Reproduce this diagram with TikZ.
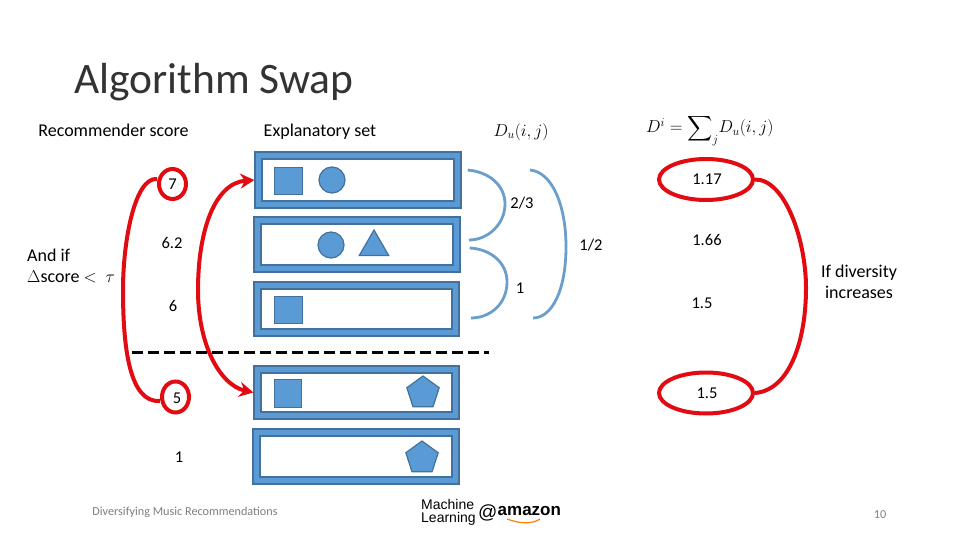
\documentclass[tikz,border=0pt]{standalone}
\usepackage{fontspec}
\setmainfont{Carlito}
\newfontfamily\logofont{Liberation Sans}
\usetikzlibrary{arrows.meta,shapes.geometric}
\definecolor{bfill}{HTML}{5B9BD5}
\definecolor{bedge}{HTML}{41719C}
\definecolor{redl}{HTML}{E30B12}
\definecolor{arcb}{HTML}{6A9FCC}
\definecolor{greyt}{HTML}{7F7F7F}
\tikzset{
 x=1pt,y=-1pt,
 lab/.style={font=\fontsize{18}{20}\selectfont,text=black,inner sep=0pt,align=center},
 num/.style={font=\fontsize{16.5}{20}\selectfont,text=black,inner sep=0pt,align=center},
 foot/.style={font=\fontsize{12.2}{14}\selectfont,text=greyt,inner sep=0pt},
 outerf/.style={draw=bedge,line width=1.3pt,fill=bfill,inner sep=0pt},
 innerf/.style={draw=bedge,line width=1.5pt,fill=white,inner sep=0pt},
 shp/.style={draw=bedge,line width=1.2pt,fill=bfill,inner sep=0pt},
 redo/.style={draw=redl,line width=4pt,ellipse,inner sep=0pt,fill=none},
 redc/.style={draw=redl,line width=4pt},
 arcl/.style={draw=arcb,line width=2.8pt},
}
\begin{document}
\begin{tikzpicture}
\useasboundingbox[fill=white] (0,0) rectangle (960,540);
% title
\node[anchor=base west,inner sep=0pt,text=black!80,font=\fontsize{43.5}{46}\selectfont] (title) at (74,94) {Algorithm Swap};
\node[lab] (rs) at (113.5,130) {Recommender score};
\node[lab] (es) at (320,131.5) {Explanatory set};
\node[lab,font=\fontsize{17.5}{20}\selectfont] (du) at (521,132) {$D_u(i,j)$};
\node[lab,anchor=base west,font=\fontsize{18}{22}\selectfont] (di) at (646,133) {$D^{i}=\mathop{\vcenter{\hbox{\scalebox{1.75}{$\displaystyle\sum$}}}}\nolimits_{j}\!D_u(i,j)$};
% frames
\foreach \n/\xa/\ya/\xb/\yb in {r1/255/152/461/208,r2/254/217/460/272,r3/254/282/459/336,r4/254/366/459/419,r5/253/429/459/484}{
 \node[outerf,minimum width=\xb-\xa,minimum height=\yb-\ya] (\n) at ({(\xa+\xb)/2},{(\ya+\yb)/2}) {};
 \node[innerf,minimum width=\xb-\xa-14,minimum height=\yb-\ya-14] (\n i) at (\n) {};
}
% shapes
\node[shp,minimum size=27.5pt] (s1) at (288.5,181) {};
\node[shp,circle,minimum size=26pt] (c1) at (332,180) {};
\node[shp,circle,minimum size=26pt] (c2) at (331,245) {};
\node[shp,regular polygon,regular polygon sides=3,minimum size=34pt] (t2) at (374,247) {};
\node[shp,minimum size=27.5pt] (s3) at (288.5,310) {};
\node[shp,minimum size=27.5pt] (s4) at (288,393.5) {};
\node[shp,regular polygon,regular polygon sides=5,minimum size=34pt] (p4) at (423,393) {};
\node[shp,regular polygon,regular polygon sides=5,minimum size=34pt] (p5) at (422,458) {};
% scores
\node[num] (n7) at (172.5,184) {7};
\node[num] (n62) at (172,243) {6.2};
\node[num] (n6) at (173,306) {6};
\node[num] (n5) at (177,398) {5};
\node[num] (n1) at (179,457) {1};
\node[lab,anchor=west,align=left] (cond) at (27,266) {And if\\[1pt]$\Delta$score $<\ \tau$};
% red
\node[redo,minimum width=27pt,minimum height=30pt] (o7) at (172.5,184) {};
\node[redo,minimum width=27pt,minimum height=31pt] (o5) at (175.5,397) {};
\node[redo,minimum width=94pt,minimum height=41pt] (o117) at (706,179.5) {};
\node[redo,minimum width=94pt,minimum height=41pt] (o15) at (706,393) {};
\draw[redc] (o7.west |- 0,179) .. controls (135,177) and (123,240) .. (123,290) .. controls (123,350) and (130,403) .. (o5.west |- 0,401);
\draw[redc,-{Stealth[length=14pt,width=15pt]}] (198,290) .. controls (198,230) and (215,183) .. (r1.west);
\draw[redc,-{Stealth[length=14pt,width=15pt]}] (198,290) .. controls (198,345) and (220,385) .. (r4.west);
\draw[redc] (o117.east) .. controls (785,179) and (806,240) .. (806,288) .. controls (806,340) and (790,390) .. (o15.east);
\draw[line width=3pt,dash pattern=on 11pt off 5pt] (132,352) coordinate (dl) -- (489,352) coordinate (dr);
% blue arcs
\draw[arcl] (r1.east |- 0,170) ++(6,0) .. controls (490,172) and (505,186) .. (505,204) .. controls (505,224) and (488,240) .. (469,240);
\draw[arcl] (r2.east |- 0,248) ++(9,0) .. controls (490,249) and (507,262) .. (507,282) .. controls (507,304) and (490,318) .. (471,318);
\draw[arcl] (530,170) .. controls (552,172) and (566,205) .. (566,247) .. controls (566,290) and (552,318) .. (533,318);
\node[num] (d23) at (522,203) {2/3};
\node[num] (d12) at (591,245) {1/2};
\node[num] (d1) at (520,288) {1};
\node[num] (v1) at (707,179) {1.17};
\node[num] (v2) at (707,240) {1.66};
\node[num] (v3) at (702,303) {1.5};
\node[num] (v4) at (707,393) {1.5};
\node[lab] (ifd) at (859,282) {If diversity\\[1pt]increases};
% footer
\node[foot] (ft) at (185,512) {Diversifying Music Recommendations};
\node[foot] (pg) at (880,515) {10};
% logo
\node[anchor=west,inner sep=0pt,align=left,font=\logofont\fontsize{14}{12.5}\selectfont] (ml) at (421,512.5) {Machine\\Learning};
\node[anchor=west,inner sep=0pt,font=\logofont\fontsize{19}{24}\selectfont] (at) at (478,513) {@};
\node[anchor=west,inner sep=0pt,font=\logofont\bfseries\fontsize{17}{20}\selectfont] (am) at (497.5,511) {amazon};
\draw[draw=orange,line width=1.2pt] (507,519) .. controls (520,524) and (533,524) .. (540,519);
\end{tikzpicture}
\end{document}
